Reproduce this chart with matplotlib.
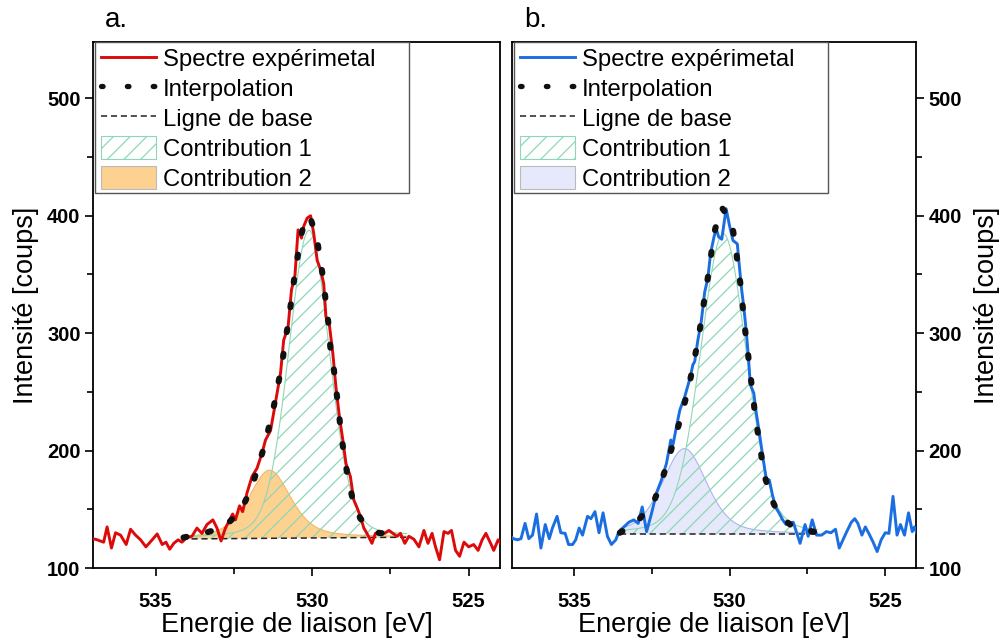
import numpy as np
import matplotlib
matplotlib.use("Agg")
import matplotlib.pyplot as plt
from matplotlib.lines import Line2D
from matplotlib.patches import Patch, Rectangle
from matplotlib.ticker import MultipleLocator

plt.rcParams['font.family'] = ['Liberation Sans', 'DejaVu Sans']
plt.rcParams['hatch.linewidth'] = 0.9

# ---- panel a : experimental spectrum (binding energy eV, counts)
ea = [537.14, 536.92, 536.66, 536.55, 536.41, 536.28, 536.12, 535.94, 535.80, 535.64,
      535.48, 535.31, 535.11, 534.95, 534.79, 534.67, 534.55, 534.42, 534.28, 534.16,
      534.00, 533.84, 533.68, 533.52, 533.36, 533.17, 533.04, 532.91, 532.77, 532.54,
      532.45, 532.32, 532.22, 532.08, 531.92, 531.76, 531.60, 531.49, 531.33, 531.23,
      531.12, 531.01, 530.91, 530.77, 530.66, 530.55, 530.45, 530.34, 530.27, 530.16,
      530.05, 529.95, 529.84, 529.73, 529.63, 529.56, 529.45, 529.34, 529.24, 529.13,
      529.02, 528.92, 528.78, 528.67, 528.56, 528.46, 528.35, 528.25, 528.09, 527.98,
      527.82, 527.68, 527.55, 527.42, 527.29, 527.18, 527.04, 526.91, 526.75, 526.59,
      526.43, 526.30, 526.17, 526.06, 525.93, 525.79, 525.66, 525.55, 525.42, 525.29,
      525.15, 525.00, 524.84, 524.70, 524.57, 524.45, 524.30, 524.20, 524.06, 523.95]
ia = [125, 124.5, 122, 135, 117, 130, 128, 120, 133, 128,
      124, 118, 124, 129, 120, 122, 116, 121, 124, 122,
      126, 127, 134, 129.5, 137, 141, 134, 123, 134, 146,
      141, 153, 148, 164, 178, 185, 198, 209, 217, 232,
      249, 266, 294, 305, 337, 349, 388, 381, 391, 398,
      400, 385, 362, 354, 342, 314, 307, 283, 254, 229,
      209, 189, 178, 158, 151, 144, 134, 129.5, 121, 129.5,
      131, 129.5, 132, 129.5, 127, 129.5, 121, 127, 124.5, 118,
      132, 121, 129.5, 118, 107, 131, 129.5, 132, 115, 110,
      122, 118, 120, 115, 124, 129.5, 121, 115, 124, 120]

# fit envelope (interpolation)
fa_e = [534.11, 533.47, 532.83, 532.30, 531.97, 531.76, 531.55, 531.39, 531.23, 530.96,
        530.86, 530.75, 530.66, 530.57, 530.36, 530.22, 530.08, 529.85, 529.74, 529.63,
        529.56, 529.47, 529.42, 529.31, 529.15, 529.07, 528.97, 528.86, 528.71, 528.46,
        527.90, 527.20]
fa_i = [126, 129.5, 134.6, 148, 166, 183, 202, 219, 237, 274,
        293, 311, 329, 347, 383, 396, 400, 381, 362, 344,
        325, 306, 288, 270, 233, 213, 195, 177, 159, 142,
        130, 128]

base_a_e = [534.17, 526.98]
base_a_i = [124.7, 126.2]
# peak fit parameters: centre, height, FWHM, lorentzian fraction
c1a = [530.10, 262, 1.55, 0.2]
c2a = [531.36, 58, 1.60, 0.5]

# ---- panel b
eb = [537.08, 536.96, 536.82, 536.71, 536.58, 536.46, 536.34, 536.21, 536.07, 535.93,
      535.80, 535.70, 535.55, 535.43, 535.29, 535.18, 535.05, 534.95, 534.84, 534.73,
      534.57, 534.46, 534.33, 534.20, 534.07, 533.93, 533.80, 533.66, 533.56, 533.40,
      533.24, 533.08, 532.94, 532.81, 532.67, 532.51, 532.35, 532.19, 532.03, 531.89,
      531.82, 531.71, 531.60, 531.44, 531.28, 531.18, 531.12, 531.02, 530.91, 530.80,
      530.70, 530.61, 530.50, 530.43, 530.35, 530.25, 530.11, 530.00, 529.89, 529.75,
      529.68, 529.61, 529.54, 529.46, 529.39, 529.33, 529.22, 529.14, 529.04, 528.93,
      528.82, 528.72, 528.61, 528.50, 528.40, 528.29, 528.18, 528.11, 527.95, 527.73,
      527.57, 527.47, 527.34, 527.20, 527.04, 526.88, 526.74, 526.59, 526.47, 526.35,
      526.21, 526.08, 525.97, 525.87, 525.74, 525.63, 525.49, 525.38, 525.25, 525.12,
      524.99, 524.87, 524.74, 524.61, 524.50, 524.37, 524.24, 524.12, 524.05, 523.95]
ib = [128, 125, 124, 125, 138, 125, 128, 146, 117, 137,
      125, 134, 144, 130, 129.5, 120, 120, 124, 134, 128,
      144, 142, 148, 130, 147, 127, 120, 124, 131, 135,
      139, 141, 138, 152, 131, 146.5, 164, 175, 189, 209,
      205, 220, 234.5, 246, 261, 273, 276, 294, 310, 335,
      346.5, 368, 382, 389, 382, 380, 406, 391.5, 379, 376,
      356, 337, 322, 301, 278.5, 256, 249, 232, 215, 195,
      176, 175, 161, 151, 146.5, 141, 137, 138, 139, 121,
      137, 127, 141, 128, 128, 131, 130, 133, 117, 124,
      132, 139, 142, 138, 128, 135, 128, 122, 114, 124,
      130, 129.5, 161, 128, 137, 128, 147, 131, 135, 128]

fb_e = [533.53, 532.99, 532.46, 532.22, 532.01, 531.60, 531.42, 531.26, 531.13, 530.99,
        530.89, 530.78, 530.67, 530.57, 530.46, 530.25, 529.93, 529.82, 529.64, 529.57,
        529.50, 529.41, 529.34, 529.25, 529.18, 529.07, 528.96, 528.84, 528.62, 528.38,
        528.00, 527.63, 527.15]
fb_i = [130, 139, 155, 171, 189, 225, 243, 261, 278, 297,
        315, 334, 352, 371, 389, 407, 395, 376, 340, 321,
        303, 284, 266, 249, 230, 212, 193, 175.5, 157, 144,
        136, 133, 130]

base_b_e = [533.53, 527.18]
base_b_i = [128.7, 128.7]
c1b = [530.20, 256, 1.75, 0.2]
c2b = [531.45, 73, 1.70, 0.4]


def pv(e, c, h, w, eta):
    s = w / 2.3548
    g = np.exp(-(e - c) ** 2 / (2 * s ** 2))
    l = 1.0 / (1.0 + ((e - c) / (w / 2)) ** 2)
    return h * ((1 - eta) * g + eta * l)


green = '#8ed7b6'
dots = (0, (0.5, 3.6))
panels = [
    dict(e=ea, i=ia, fe=fa_e, fi=fa_i, be=base_a_e, bi=base_a_i, c1=c1a, c2=c2a,
         col='#dc0a0a', fill2='#fdd18f', edge2='#f2b86a', lab='a.'),
    dict(e=eb, i=ib, fe=fb_e, fi=fb_i, be=base_b_e, bi=base_b_i, c1=c1b, c2=c2b,
         col='#1b6ee0', fill2='#e6e9fb', edge2='#a9b5ef', lab='b.'),
]

fig = plt.figure(figsize=(10.03, 6.41), dpi=100)
W, H = 1003, 641
ax_pos = [(93, 407), (512, 404)]

for k, p in enumerate(panels):
    x0, w = ax_pos[k]
    ax = fig.add_axes([x0 / W, 73 / H, w / W, 526 / H])

    eg = np.linspace(p['be'][0], p['be'][1], 400)
    bg = np.interp(eg, p['be'][::-1], p['bi'][::-1])
    y2 = bg + pv(eg, *p['c2'])
    y1 = bg + pv(eg, *p['c1'])

    ax.fill_between(eg, bg, y2, facecolor=p['fill2'], edgecolor='none', zorder=1)
    ax.plot(eg, y2, color=p['edge2'], lw=0.8, zorder=1.5)
    ax.fill_between(eg, bg, y1, facecolor='none', edgecolor=green, hatch='//',
                    linewidth=0, zorder=2)
    ax.plot(eg, y1, color=green, lw=0.8, zorder=2.5)
    ax.plot(p['be'], p['bi'], color='#222222', lw=1.1, ls=(0, (4, 2.5)), zorder=3)
    ax.plot(p['e'], p['i'], color=p['col'], lw=2.1, zorder=4)
    ax.plot(p['fe'], p['fi'], color='#111111', lw=4.4, ls=dots,
            dash_capstyle='round', zorder=5)

    ax.set_xlim(537, 524)
    ax.set_ylim(100, 548)
    ax.xaxis.set_major_locator(MultipleLocator(5))
    ax.xaxis.set_minor_locator(MultipleLocator(2.5))
    ax.yaxis.set_major_locator(MultipleLocator(100))
    ax.yaxis.set_minor_locator(MultipleLocator(50))
    for s in ax.spines.values():
        s.set_linewidth(1.3)
    ax.tick_params(which='both', direction='out', width=1.2, labelsize=14.5)
    ax.tick_params(which='major', length=6)
    ax.tick_params(axis='x', which='major', pad=11)
    ax.tick_params(axis='y', which='major', pad=3)
    ax.tick_params(which='minor', length=4)
    if k == 1:
        ax.yaxis.tick_right()
        ax.yaxis.set_label_position('right')
    for t in ax.get_xticklabels() + ax.get_yticklabels():
        t.set_fontweight('bold')
    ax.set_xlabel('Energie de liaison [eV]', fontsize=19.5, labelpad=1)
    ax.set_ylabel('Intensité [coups]', fontsize=19.5, labelpad=6 if k == 0 else 9)

    handles = [
        Line2D([], [], color=p['col'], lw=2.1),
        Line2D([], [], color='#111111', lw=3.8, ls=(0, (0.3, 4.6)), dash_capstyle='round'),
        Line2D([], [], color='#222222', lw=1.1, ls=(0, (4, 2.5))),
        Patch(facecolor='white', edgecolor=green, hatch='//', lw=0.8),
        Patch(facecolor=p['fill2'], edgecolor='#bbbbbb', lw=0.8),
    ]
    labels = ['Spectre expérimetal', 'Interpolation', 'Ligne de base',
              'Contribution 1', 'Contribution 2']
    ax.add_patch(Rectangle((2 / w, (568 - 193) / 526), 314 / w, (193 - 42) / 526,
                           transform=ax.transAxes, facecolor='white',
                           edgecolor='#555555', lw=1.0, zorder=6))
    leg = ax.legend(handles, labels, loc='upper left', bbox_to_anchor=(3 / w, 1.0),
                    frameon=False, fontsize=17.2, handlelength=2.3, handleheight=1.1,
                    handletextpad=0.3, labelspacing=0.22, borderpad=0.2,
                    borderaxespad=0)
    leg.set_zorder(7)

    fig.text((x0 + 12) / W, 1 - 20 / H, p['lab'], fontsize=20, ha='left', va='center')

fig.savefig('out.png', dpi=100)
